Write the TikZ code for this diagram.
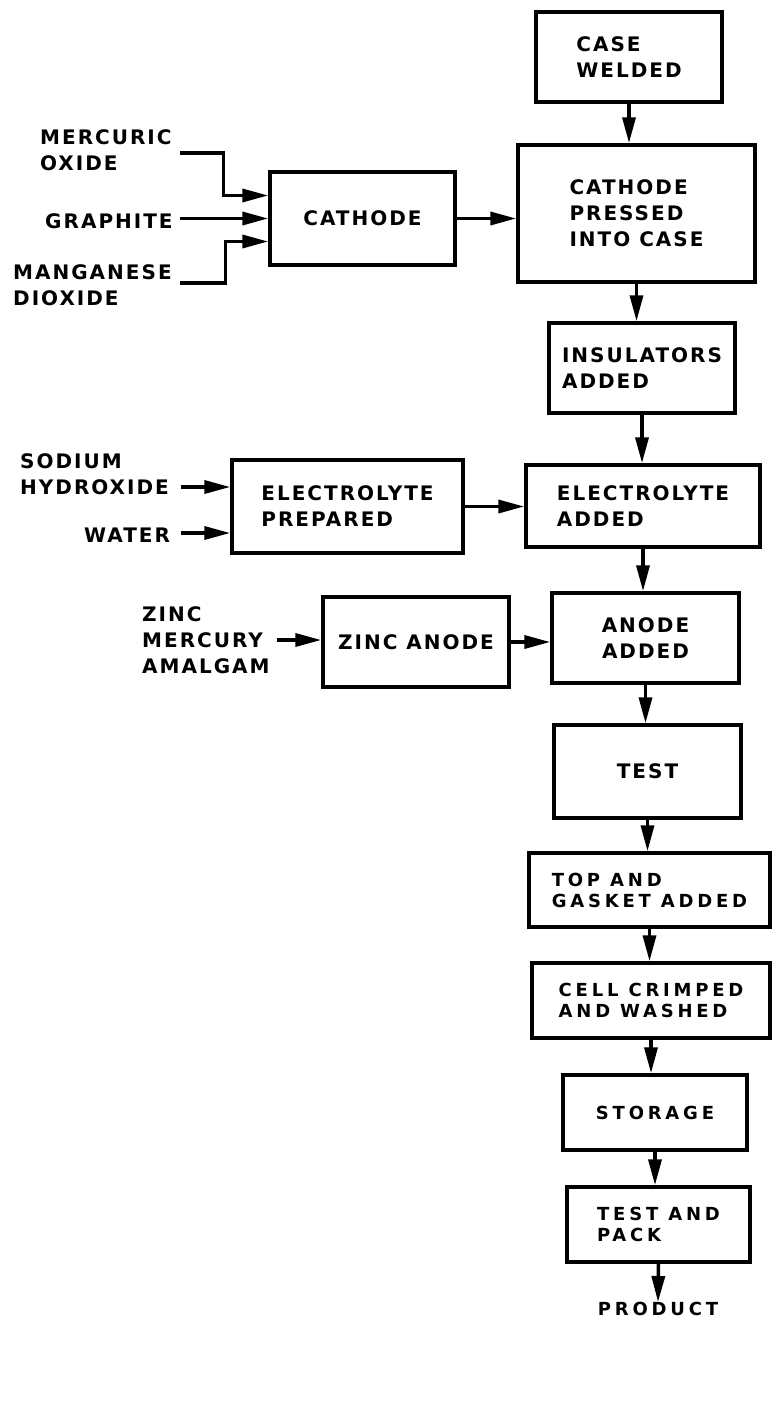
\documentclass[tikz,border=0pt]{standalone}
\usepackage{fontspec}
\setmainfont{DejaVu Sans}
\newfontfamily\boxfont[LetterSpace=10]{DejaVu Sans}
\newfontfamily\widefont[LetterSpace=21]{DejaVu Sans}
\usetikzlibrary{arrows.meta,positioning}

\begin{document}
\begin{tikzpicture}[
    x=1pt, y=-1pt,
    block/.style={rectangle, draw, line width=3.5pt, inner sep=0pt, align=left, font=\boxfont\bfseries\fontsize{20}{26}\selectfont},
    wideblock/.style={rectangle, draw, line width=3.5pt, inner sep=0pt, align=left, font=\widefont\bfseries\fontsize{18}{21}\selectfont},
    feed/.style={anchor=west, inner sep=0pt, align=left, font=\boxfont\bfseries\fontsize{20}{26}\selectfont},
    arrow/.style={-{Triangle[length=26pt, width=13pt]}, line width=3.5pt},
]
    \fill[white] (0,0) rectangle (772,1421);
    \useasboundingbox (0,0) rectangle (772,1421);

    % Main line
    \node[block, minimum width=186pt, minimum height=90pt] (weld) at (629,57) {CASE\\WELDED};
    \node[block, minimum width=237pt, minimum height=137pt] (press) at (636.5,213.5) {CATHODE\\PRESSED\\INTO CASE};
    \node[block, minimum width=186pt, minimum height=90pt] (insul) at (642,368) {INSULATORS\\ADDED};
    \node[block, minimum width=234pt, minimum height=82pt] (elecadd) at (643,506) {ELECTROLYTE\\ADDED};
    \node[block, align=center, minimum width=187pt, minimum height=90pt] (anode) at (645.5,638) {ANODE\\ADDED};
    \node[block, minimum width=187pt, minimum height=93pt] (test) at (647.5,771.5) {TEST};
    \node[wideblock, minimum width=241pt, minimum height=74pt] (gasket) at (649.5,890) {TOP AND\\GASKET ADDED};
    \node[wideblock, minimum width=238pt, minimum height=75pt] (crimp) at (651,1000.5) {CELL CRIMPED\\AND WASHED};
    \node[wideblock, minimum width=184pt, minimum height=75pt] (storage) at (655,1112.5) {STORAGE};
    \node[wideblock, minimum width=183pt, minimum height=75pt] (pack) at (658.5,1224.5) {TEST AND\\PACK};
    \node[inner sep=0pt, font=\widefont\bfseries\fontsize{18}{21}\selectfont] (product) at (658,1309) {PRODUCT};

    % Side blocks
    \node[block, minimum width=185pt, minimum height=93pt] (cath) at (362.5,218.5) {CATHODE};
    \node[block, minimum width=231pt, minimum height=93pt] (elecprep) at (347.5,506.5) {ELECTROLYTE\\PREPARED};
    \node[block, minimum width=186pt, minimum height=90pt] (zinc) at (416,642) {ZINC ANODE};

    % Raw materials
    \node[feed] (mer) at (40,150) {MERCURIC\\OXIDE};
    \node[feed] (graph) at (45,221) {GRAPHITE};
    \node[feed] (man) at (13,285) {MANGANESE\\DIOXIDE};
    \node[feed] (soda) at (20,474) {SODIUM\\HYDROXIDE};
    \node[feed] (water) at (84,535) {WATER};
    \node[feed] (amal) at (142,640) {ZINC\\MERCURY\\AMALGAM};

    \coordinate (m0) at (180,153);
    \coordinate (g0) at (180,218.5);
    \coordinate (n0) at (180,283);
    \coordinate (s0) at (181,487);
    \coordinate (w0) at (181,533);
    \coordinate (z0) at (277,640);

    % Arrows
    \draw[arrow] (m0) -| ([xshift=-45pt,yshift=23pt]cath.west) -- ([yshift=23pt]cath.west);
    \draw[arrow] (g0) -- (cath.west);
    \draw[arrow] (n0) -| ([xshift=-43pt,yshift=-23pt]cath.west) -- ([yshift=-23pt]cath.west);
    \draw[arrow] (s0) -- (s0 -| elecprep.west);
    \draw[arrow] (w0) -- (w0 -| elecprep.west);
    \draw[arrow] (z0) -- (z0 -| zinc.west);

    \draw[arrow] (cath.east) -- (cath.east -| press.west);
    \draw[arrow] (elecprep.east) -- (elecprep.east -| elecadd.west);
    \draw[arrow] (zinc.east) -- (zinc.east -| anode.west);

    \draw[arrow] (weld.south) -- (weld.south |- press.north);
    \draw[arrow] (press.south) -- (press.south |- insul.north);
    \draw[arrow] (insul.south) -- (insul.south |- elecadd.north);
    \draw[arrow] (elecadd.south) -- (elecadd.south |- anode.north);
    \draw[arrow] (anode.south) -- (anode.south |- test.north);
    \draw[arrow] (test.south) -- (test.south |- gasket.north);
    \draw[arrow] (gasket.south) -- (gasket.south |- crimp.north);
    \draw[arrow] (crimp.south) -- (crimp.south |- storage.north);
    \draw[arrow] (storage.south) -- (storage.south |- pack.north);
    \draw[arrow] (pack.south) -- (product.north);
\end{tikzpicture}
\end{document}
